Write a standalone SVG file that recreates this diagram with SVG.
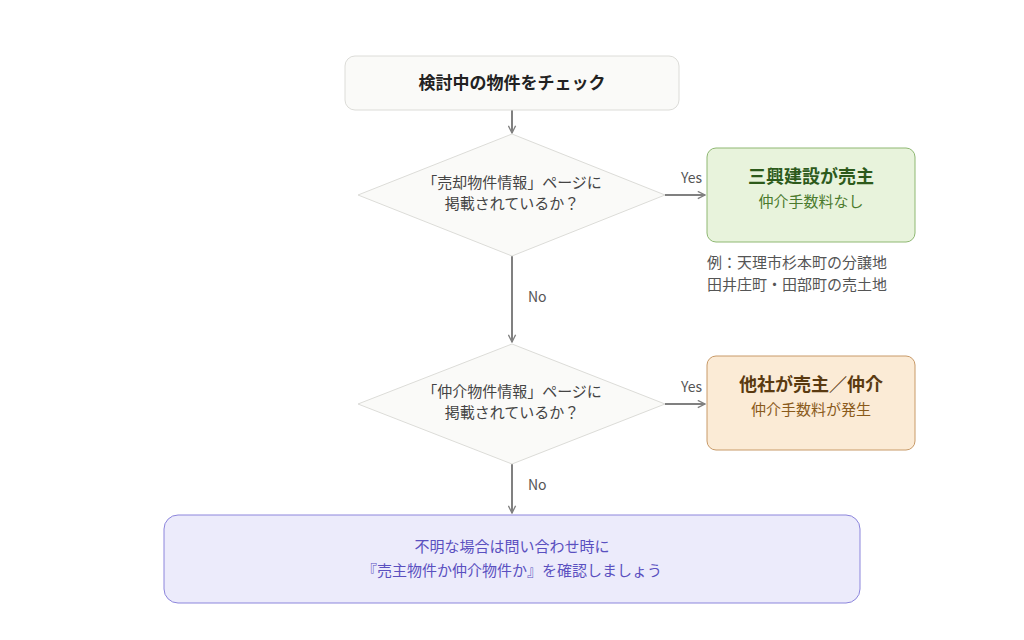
<svg xmlns="http://www.w3.org/2000/svg" width="1024" height="640" viewBox="0 0 1024 640">
<defs>
<marker id="ah" viewBox="0 0 10 10" refX="9" refY="5" markerWidth="9" markerHeight="9" orient="auto" markerUnits="userSpaceOnUse"><path d="M1 1 L9 5 L1 9" fill="none" stroke="#808080" stroke-width="1.5"/></marker>
</defs>
<style>
text{font-family:"Noto Sans CJK JP","Noto Sans",sans-serif;text-anchor:middle}
.e{stroke:#808080;stroke-width:2;fill:none;marker-end:url(#ah)}
.lb{font-size:14px;fill:#555;text-anchor:start}
.q{font-size:15px;fill:#444}
.dia{fill:#fafaf8;stroke:#dcdcd8;stroke-width:1}
</style>
<rect width="1024" height="640" fill="#fff"/>
<g id="connectors">
<path class="e" d="M512 110 V133"/>
<path class="e" d="M512 256 V342"/>
<path class="e" d="M512 464 V513"/>
<path class="e" d="M665 195 H705"/>
<path class="e" d="M665 404 H705"/>
<text class="lb" x="681" y="183">Yes</text>
<text class="lb" x="528" y="302">No</text>
<text class="lb" x="681" y="392">Yes</text>
<text class="lb" x="528" y="490">No</text>
</g>
<g id="start">
<rect x="345" y="56" width="334" height="54" rx="10" fill="#fafaf8" stroke="#dcdcd8"/>
<text x="512" y="89" font-size="17" font-weight="bold" fill="#222">検討中の物件をチェック</text>
</g>
<g id="q1">
<polygon class="dia" points="512,134 665,195 512,256 358,195"/>
<text class="q" x="512" y="188">「売却物件情報」ページに</text>
<text class="q" x="512" y="209">掲載されているか？</text>
</g>
<g id="yes1">
<rect x="707" y="148" width="208" height="94" rx="9" fill="#e8f3dc" stroke="#8fb873"/>
<text x="811" y="183" font-size="18" font-weight="bold" fill="#2d5a1b">三興建設が売主</text>
<text x="811" y="207" font-size="15" fill="#4a7a2c">仲介手数料なし</text>
</g>
<g id="note">
<text x="707" y="268" font-size="15" fill="#555" style="text-anchor:start">例：天理市杉本町の分譲地</text>
<text x="707" y="290" font-size="15" fill="#555" style="text-anchor:start">田井庄町・田部町の売土地</text>
</g>
<g id="q2">
<polygon class="dia" points="512,344 665,404 512,464 358,404"/>
<text class="q" x="512" y="397">「仲介物件情報」ページに</text>
<text class="q" x="512" y="418">掲載されているか？</text>
</g>
<g id="yes2">
<rect x="707" y="356" width="208" height="94" rx="9" fill="#fbebd6" stroke="#c89a68"/>
<text x="811" y="391" font-size="18" font-weight="bold" fill="#5a3a10">他社が売主／仲介</text>
<text x="811" y="415" font-size="15" fill="#8a5a1a">仲介手数料が発生</text>
</g>
<g id="end">
<rect x="164" y="515" width="696" height="88" rx="14" fill="#ecebfb" stroke="#8c85dc"/>
<text x="512" y="552" font-size="15" fill="#5a50c0">不明な場合は問い合わせ時に</text>
<text x="512" y="576" font-size="15" fill="#5a50c0">『売主物件か仲介物件か』を確認しましょう</text>
</g>
</svg>
